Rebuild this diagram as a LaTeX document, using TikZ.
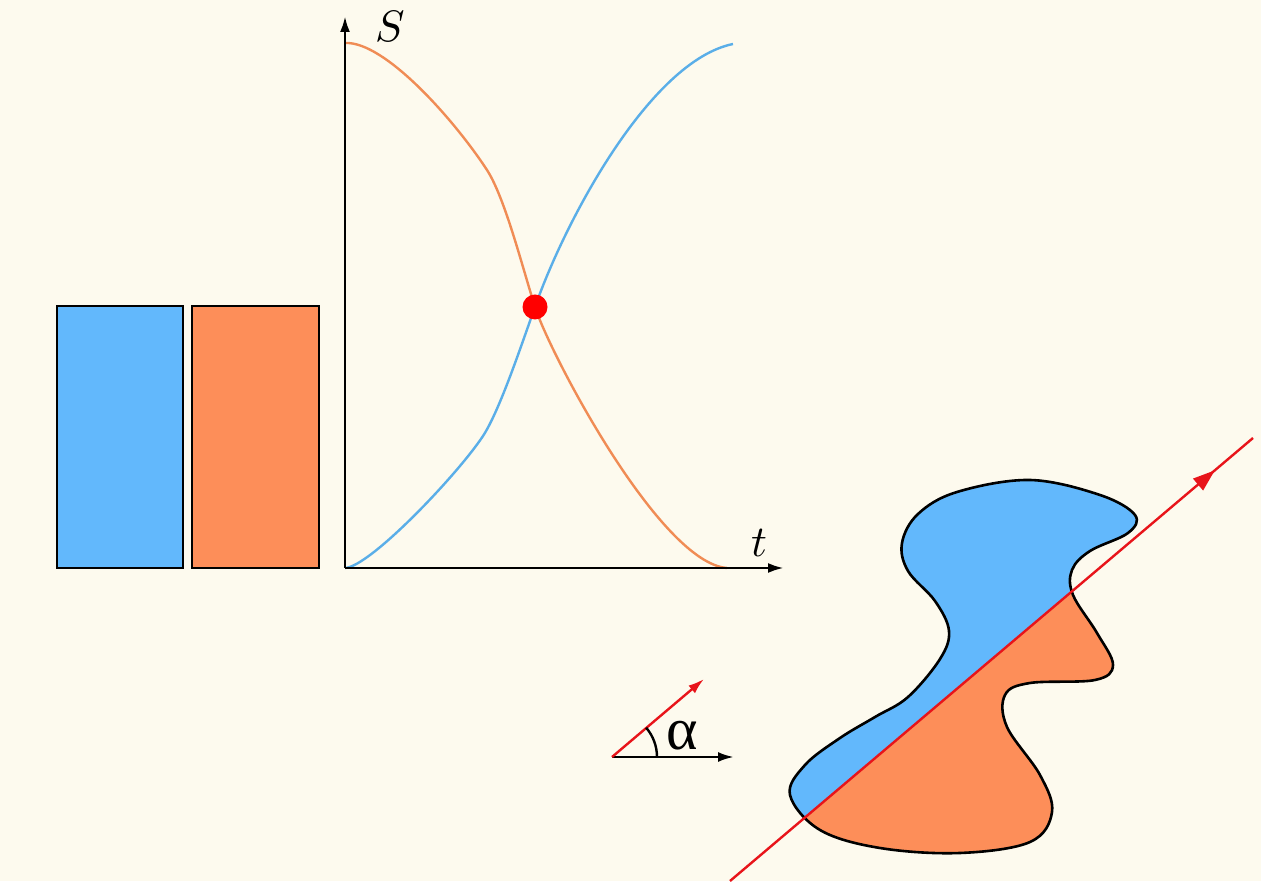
\documentclass[tikz,border=0pt]{standalone}
\usepackage{fontspec}
\newfontfamily\greekfont{Liberation Serif}
\usepackage{xcolor}
\definecolor{paper}{HTML}{FDFAEE}
\definecolor{sblue}{HTML}{62B8FC}
\definecolor{sorange}{HTML}{FD8E59}
\definecolor{cblue}{HTML}{5AAEE8}
\definecolor{corange}{HTML}{F08C55}
\definecolor{lred}{HTML}{E8141A}
\usepackage{tikz}
\usetikzlibrary{positioning,arrows.meta,decorations.markings,calc}

\newcommand{\blobshape}{plot[smooth cycle, tension=0.6] coordinates {
  (790,86) (805,116) (840,143) (875,164) (908,184) (940,222) (949,250) (935,280)
  (908,310) (902,338) (918,367) (957,389) (1030,401) (1100,386) (1135,366) (1128,348)
  (1090,330) (1072,311) (1073,286) (1097,248) (1113,216) (1095,201) (1030,198) (1005,186)
  (1007,154) (1040,106) (1052,69) (1030,39) (960,28) (880,33) (820,51)}}

\begin{document}
\begin{tikzpicture}[x=1pt, y=1pt,
    bar/.style={rectangle, draw=black, line width=2.6pt, minimum height=262pt, inner sep=0pt},
    axis/.style={line width=2.8pt, -{Latex[length=16pt, width=10pt]}},
    curve/.style={line width=2.4pt},
    lbl/.style={scale=4.4, inner sep=0pt},
  ]
  \fill[paper] (0,0) rectangle (1261,881);
  \useasboundingbox (0,0) rectangle (1261,881);

  % two boxes
  \node[bar, fill=sblue, minimum width=126pt] (lbar) at (120,444) {};
  \node[bar, fill=sorange, minimum width=127pt] (rbar) at (255.5,444) {};

  % axes
  \coordinate (O) at (345,313);
  \coordinate (ytop) at (345,865);
  \coordinate (xend) at (784,313);
  \node[lbl] (Slbl) at (390,855) {$S$};
  \node[lbl] (tlbl) at (759,338) {$t$};

  % curves
  \coordinate (X) at (535,574);
  \draw[curve, corange] (345,838) .. controls (385,840) and (455,760) .. (487,711)
    .. controls (505,683) and (522,615) .. (X)
    .. controls (550,527) and (660,318) .. (727,313);
  \draw[curve, cblue] (O) .. controls (370,314) and (458,407) .. (483,445)
    .. controls (500,471) and (522,538) .. (X)
    .. controls (565,660) and (650,820) .. (733,837);
  \draw[axis] (O) -- (ytop);
  \draw[axis] (O) -- (xend);
  \node[circle, fill=red, minimum size=25pt, inner sep=0pt] (dot) at (X) {};

  % angle
  \coordinate (A) at (612,124);
  \coordinate (Ax) at (734,124);
  \coordinate (Ar) at (704,202);
  \draw[line width=2.6pt, -{Latex[length=16pt, width=10pt]}] (A) -- (Ax);
  \draw[line width=2.4pt, lred, -{Latex[length=16pt, width=10pt]}] (A) -- (Ar);
  \draw[line width=2.4pt] ($(A)+(45,0)$) arc (0:40.6:45);
  \node[scale=6, inner sep=0pt] (alpha) at (682,145) {\greekfont α};

  % blob
  \begin{scope}
    \clip \blobshape;
    \fill[sorange] (700,0) rectangle (1261,500);
    \fill[sblue] (700,-25) -- (1261,450) -- (1261,500) -- (700,500) -- cycle;
  \end{scope}
  \draw[line width=2.6pt] \blobshape;

  % red line
  \coordinate (L0) at (730,0);
  \coordinate (L1) at (1253,443);
  \draw[line width=2.4pt, lred, decoration={markings,
      mark=at position 0.927 with {\arrow{Triangle[length=22pt, width=15pt]}}},
      postaction={decorate}] (L0) -- (L1);
\end{tikzpicture}
\end{document}
